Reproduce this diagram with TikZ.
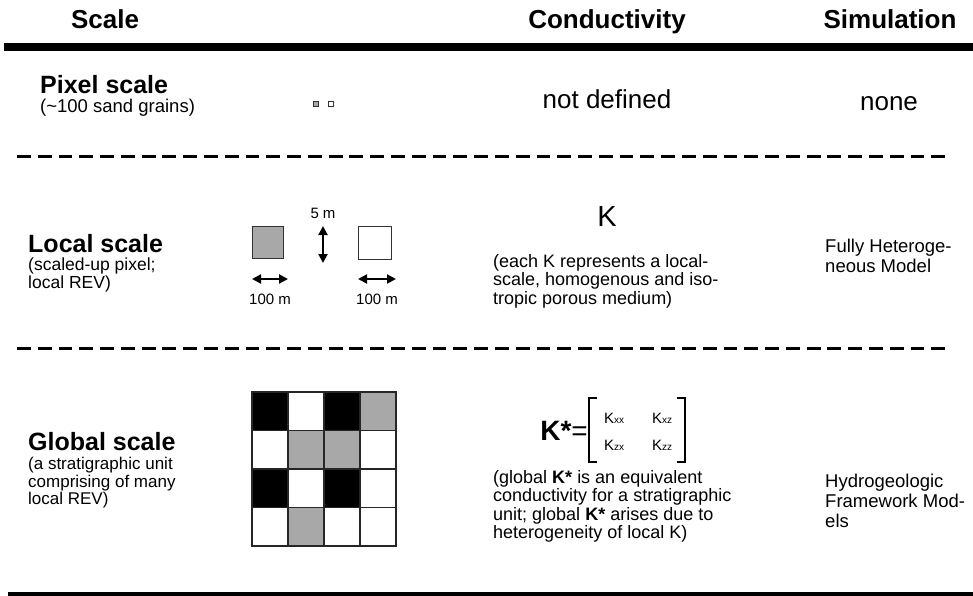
\documentclass[tikz,border=0pt]{standalone}
\usepackage{fontspec}
\setmainfont{Liberation Sans}
\usetikzlibrary{arrows.meta}
\definecolor{cellgray}{HTML}{A8A8A8}
\tikzset{
  hdr/.style={font=\fontsize{26}{28}\selectfont\bfseries, inner sep=0pt, anchor=base},
  ttl/.style={font=\fontsize{25}{28}\selectfont\bfseries, anchor=base west, inner sep=0pt},
  sub/.style={font=\fontsize{17}{17.5}\selectfont, anchor=north west, align=left, inner sep=0pt},
  body/.style={font=\fontsize{26}{28}\selectfont, inner sep=0pt, anchor=base},
  desc/.style={font=\fontsize{18}{18.5}\selectfont, anchor=north west, align=left, inner sep=0pt},
  simtext/.style={font=\fontsize{18.5}{20}\selectfont, anchor=north west, align=left, inner sep=0pt},
  dimlabel/.style={font=\fontsize{15}{16}\selectfont, inner sep=0pt},
  entry/.style={font=\fontsize{15}{16}\selectfont, inner sep=0pt},
  dashrule/.style={line width=3pt, dash pattern=on 13.85pt off 6.93pt},
  dimarrow/.style={line width=2pt, {Triangle[length=9pt,width=9pt]}-{Triangle[length=9pt,width=9pt]}},
  cell/.style={draw=black!85, line width=1.3pt},
  smallsq/.style={draw=black!80, line width=0.8pt},
  bracket/.style={line width=2.2pt},
}
\newcommand{\idx}[1]{{\fontsize{10}{10}\selectfont #1}}
\begin{document}
\begin{tikzpicture}[x=1pt, y=-1pt]
  \useasboundingbox (0,0) rectangle (973,596);

  % column headings and rules
  \node[hdr] (hscale) at (105,29) {Scale};
  \node[hdr] (hcond) at (607,29) {Conductivity};
  \node[hdr] (hsim) at (890,29) {Simulation};
  \draw[line width=8pt] (4,47) -- (973,47);
  \draw[line width=4pt] (8,594) -- (973,594);
  \draw[dashrule] (17,157) -- (945,157);
  \draw[dashrule] (17,348) -- (945,348);

  % pixel scale row
  \node[ttl] (pixt) at (40,94) {Pixel scale};
  \node[sub, font=\fontsize{18.5}{19}\selectfont] (pixs) at (40,99) {(\textasciitilde100 sand grains)};
  \draw[smallsq, fill=cellgray] (313,101) rectangle (318,106);
  \draw[smallsq, fill=white] (328,101) rectangle (333,106);
  \node[body] (pixk) at (607,109) {not defined};
  \node[body] (pixsim) at (889,111) {none};

  % local scale row
  \node[ttl] (loct) at (28,252) {Local scale};
  \node[sub, font=\fontsize{17.5}{16}\selectfont] (locs) at (28,258) {(scaled-up pixel;\\local REV)};
  \draw[smallsq, fill=cellgray] (252,226) rectangle (283,258);
  \draw[smallsq, fill=white] (358,226) rectangle (391,259);
  \coordinate (vtop) at (323,226);
  \coordinate (vbot) at (323,263);
  \draw[dimarrow] (vtop) -- (vbot);
  \node[dimlabel] (fivem) at (323,213) {5 m};
  \coordinate (la) at (252,279);
  \coordinate (lb) at (288,279);
  \coordinate (ra) at (358,279);
  \coordinate (rb) at (396,279);
  \draw[dimarrow] (la) -- (lb);
  \draw[dimarrow] (ra) -- (rb);
  \node[dimlabel] (hundl) at (270,299) {100 m};
  \node[dimlabel] (hundr) at (377,299) {100 m};
  \node[font=\fontsize{29}{32}\selectfont, inner sep=0pt] (kloc) at (607,217) {K};
  \node[desc] (kdesc) at (493,254) {(each K represents a local-\\scale, homogenous and iso-\\tropic porous medium)};
  \node[simtext] (locsim) at (825,239) {Fully Heteroge-\\neous Model};

  % global scale row
  \node[ttl] (glot) at (28,450) {Global scale};
  \node[sub] (glos) at (28,457) {(a stratigraphic unit\\comprising of many\\local REV)};

  % grid of local cells, one fill colour per cell
  \foreach \row/\pat in {0/{black,white,black,cellgray},1/{white,cellgray,cellgray,white},2/{black,white,black,white},3/{white,cellgray,white,white}}{
    \foreach \fc [count=\col from 0] in \pat {
      \draw[cell, fill=\fc] (252+36*\col, 392+38.5*\row) rectangle ++(36,38.5);
    }
  }

  % equivalent conductivity tensor
  \node[font=\fontsize{28}{30}\selectfont, inner sep=0pt, anchor=base east] (kstar) at (588,440) {\textbf{K*}=};
  \draw[bracket] (597,398) -- (589,398) -- (589,462) -- (597,462);
  \draw[bracket] (677,398) -- (685,398) -- (685,462) -- (677,462);
  \node[entry] (kxx) at (614,418) {K\idx{xx}};
  \node[entry] (kxz) at (662,418) {K\idx{xz}};
  \node[entry] (kzx) at (614,445) {K\idx{zx}};
  \node[entry] (kzz) at (662,445) {K\idx{zz}};
  \node[desc] (gdesc) at (493,470) {(global \textbf{K*} is an equivalent\\conductivity for a stratigraphic\\unit; global \textbf{K*} arises due to\\heterogeneity of local K)};
  \node[simtext] (glosim) at (825,474) {Hydrogeologic\\Framework Mod-\\els};
\end{tikzpicture}
\end{document}
